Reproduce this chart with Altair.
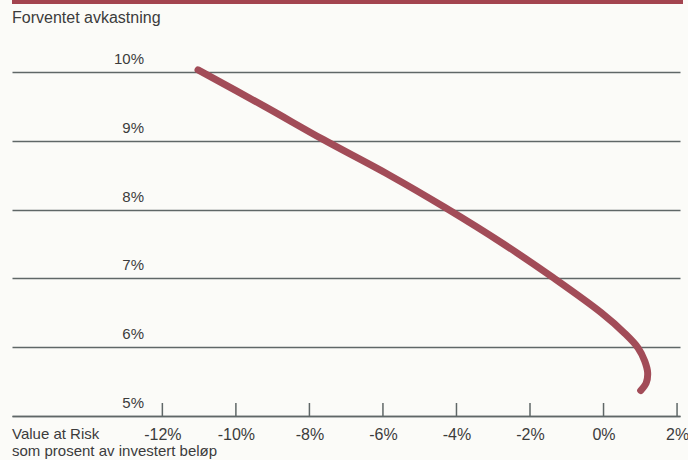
import altair as alt
import pandas as pd

# Efficient frontier: Value at Risk (% of invested amount) vs expected return (%)
var_pct = [-11.03, -9.22, -7.63, -5.82, -4.31, -2.72, -1.37, -0.06, 0.58, 0.94, 1.12, 1.20, 1.16, 1.01]
ret_pct = [10.03, 9.50, 9.02, 8.50, 8.03, 7.50, 7.01, 6.50, 6.20, 5.99, 5.80, 5.63, 5.48, 5.37]

x_ticks = [-12, -10, -8, -6, -4, -2, 0, 2]
y_levels = [5, 6, 7, 8, 9, 10]
y_labels = ["5%", "6%", "7%", "8%", "9%", "10%"]

TEXT = "#3c3c3c"
GRID = "#5f6767"
CURVE = "#a24c58"
FONT = "Liberation Sans"

curve_df = pd.DataFrame({"var": var_pct, "ret": ret_pct, "step": range(len(var_pct))})
ylab_df = pd.DataFrame({"ret": y_levels, "label": y_labels})
tick_df = pd.DataFrame({"var": x_ticks})
one = pd.DataFrame({"k": [0]})

x_scale = alt.Scale(domain=[-16.09, 2.08], nice=False, zero=False)
y_scale = alt.Scale(domain=[5, 10], nice=False, zero=False)

x_axis = alt.Axis(
    values=x_ticks, format="d", labelExpr="datum.value + '%'",
    title=None, grid=False, ticks=False, tickSize=0,
    domain=True, domainColor=GRID, domainWidth=1.5,
    labelPadding=18, labelBaseline="middle", labelFont=FONT,
    labelFontSize=16, labelColor=TEXT,
)
y_axis = alt.Axis(
    values=y_levels, title=None, labels=False, ticks=False, domain=False,
    grid=True, gridColor=GRID, gridWidth=1.5, gridOpacity=1,
)

# Short upward ticks on the bottom axis
frame = alt.Chart(tick_df).mark_rule(color=GRID, strokeWidth=1.5).encode(
    x=alt.X("var:Q", scale=x_scale, axis=x_axis),
    y=alt.value(331), y2=alt.value(344),
)

# Horizontal reference lines come from the y grid
grid = alt.Chart(ylab_df).mark_point(opacity=0).encode(
    y=alt.Y("ret:Q", scale=y_scale, axis=y_axis),
)

# Return labels sitting above each line
ylabels = alt.Chart(ylab_df).mark_text(
    align="right", baseline="alphabetic", dy=-8, font=FONT, fontSize=15, color=TEXT
).encode(
    x=alt.value(132),
    y=alt.Y("ret:Q", scale=y_scale),
    text="label:N",
)

curve = alt.Chart(curve_df).mark_line(
    color=CURVE, strokeWidth=7, strokeCap="round", strokeJoin="round",
    interpolate="catmull-rom",
).encode(
    x=alt.X("var:Q", scale=x_scale),
    y=alt.Y("ret:Q", scale=y_scale),
    order="step:Q",
)

top_bar = alt.Chart(one).mark_rule(color="#a3444f", strokeWidth=5).encode(
    x=alt.value(0), x2=alt.value(671), y=alt.value(-70.5),
)

title = alt.Chart(one).mark_text(
    text="Forventet  avkastning", align="left", baseline="middle",
    font=FONT, fontSize=16, color=TEXT,
).encode(x=alt.value(0), y=alt.value(-54))

xtitle1 = alt.Chart(one).mark_text(
    text="Value at Risk", align="left", baseline="middle",
    font=FONT, fontSize=15, color=TEXT,
).encode(x=alt.value(0), y=alt.value(362))

xtitle2 = alt.Chart(one).mark_text(
    text="som prosent av investert beløp", align="left", baseline="middle",
    font=FONT, fontSize=15, color=TEXT,
).encode(x=alt.value(0), y=alt.value(379))

chart = alt.layer(
    grid, frame, ylabels, curve, top_bar, title, xtitle1, xtitle2
).properties(
    width=668, height=344,
    autosize=alt.AutoSizeParams(type="none"),
    padding={"left": 12, "top": 72, "right": 8, "bottom": 44},
    background="#fbfbf8",
).configure_view(stroke=None)

chart.save("out.html", embed_options={"renderer": "svg", "actions": False})
